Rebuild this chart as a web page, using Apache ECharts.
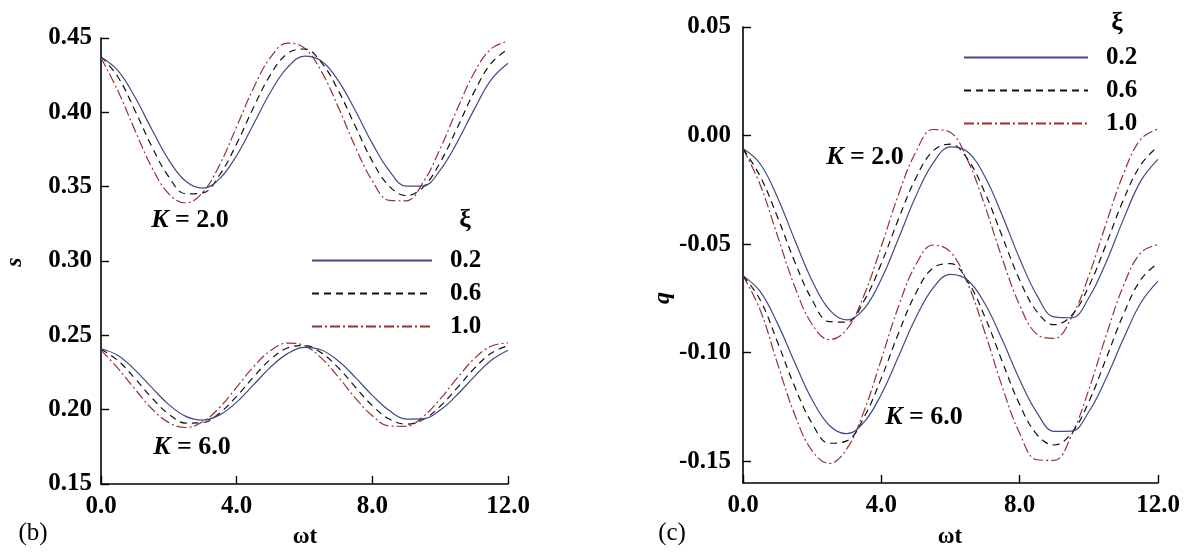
<!DOCTYPE html>
<html>
<head>
<meta charset="utf-8">
<script src="https://cdn.jsdelivr.net/npm/echarts@6/dist/echarts.min.js"></script>
<style>
html,body{margin:0;padding:0;background:#fff;}
#c{width:1189px;height:553px;}
</style>
</head>
<body>
<div id="c"></div>
<script>
// ωt sample points
const T = [0,0.5,1,1.5,2,2.5,3,3.5,4,4.5,5,5.5,6,6.5,7,7.5,8,8.5,9,9.5,10,10.5,11,11.5,12];
const xTicks = [0, 4, 8, 12];
const sTicks = [0.15, 0.20, 0.25, 0.30, 0.35, 0.40, 0.45];
const qTicks = [-0.15, -0.10, -0.05, 0.00, 0.05];
const xiNames = ['0.2', '0.6', '1.0'];

// panel (b): s, K = 2.0
const sK2_02 = [0.4372,0.4280,0.4103,0.3885,0.3679,0.3536,0.3490,0.3554,0.3710,0.3922,0.4137,0.4302,0.4378,0.4345,0.4212,0.4011,0.3791,0.3607,0.3503,0.3505,0.3612,0.3798,0.4018,0.4218,0.4330];
const sK2_06 = [0.4375,0.4238,0.4013,0.3769,0.3566,0.3452,0.3458,0.3580,0.3789,0.4034,0.4254,0.4396,0.4426,0.4335,0.4146,0.3906,0.3672,0.3503,0.3440,0.3497,0.3663,0.3894,0.4136,0.4329,0.4425];
const sK2_10 = [0.4365,0.4144,0.3880,0.3629,0.3452,0.3390,0.3462,0.3648,0.3904,0.4165,0.4370,0.4466,0.4432,0.4274,0.4033,0.3766,0.3539,0.3408,0.3405,0.3530,0.3754,0.4020,0.4265,0.4427,0.4478];
// panel (b): s, K = 6.0
const sK6_02 = [0.2410,0.2365,0.2268,0.2148,0.2034,0.1955,0.1930,0.1965,0.2051,0.2168,0.2286,0.2377,0.2419,0.2401,0.2327,0.2217,0.2096,0.1994,0.1937,0.1938,0.1997,0.2100,0.2221,0.2331,0.2400];
const sK6_06 = [0.2408,0.2330,0.2210,0.2079,0.1970,0.1910,0.1913,0.1978,0.2090,0.2221,0.2339,0.2415,0.2431,0.2382,0.2281,0.2152,0.2027,0.1937,0.1903,0.1934,0.2023,0.2146,0.2276,0.2379,0.2430];
const sK6_10 = [0.2400,0.2278,0.2139,0.2006,0.1913,0.1880,0.1918,0.2016,0.2151,0.2289,0.2397,0.2448,0.2430,0.2347,0.2219,0.2078,0.1959,0.1890,0.1888,0.1954,0.2072,0.2212,0.2342,0.2427,0.2449];
// panel (c): q, K = 2.0
const qK2_02 = [-0.0060,-0.0131,-0.0286,-0.0482,-0.0669,-0.0803,-0.0849,-0.0798,-0.0661,-0.0473,-0.0278,-0.0126,-0.0052,-0.0076,-0.0191,-0.0369,-0.0567,-0.0736,-0.0835,-0.0839,-0.0747,-0.0583,-0.0386,-0.0210,-0.0110];
const qK2_06 = [-0.0060,-0.0189,-0.0376,-0.0582,-0.0757,-0.0857,-0.0859,-0.0761,-0.0589,-0.0383,-0.0195,-0.0070,-0.0039,-0.0110,-0.0265,-0.0466,-0.0665,-0.0811,-0.0871,-0.0828,-0.0694,-0.0501,-0.0296,-0.0135,-0.0050];
const qK2_10 = [-0.0060,-0.0228,-0.0463,-0.0697,-0.0870,-0.0940,-0.0893,-0.0735,-0.0510,-0.0270,-0.0075,0.0028,0.0014,-0.0115,-0.0326,-0.0568,-0.0781,-0.0915,-0.0934,-0.0838,-0.0645,-0.0405,-0.0177,-0.0017,0.0030];
// panel (c): q, K = 6.0
const qK6_02 = [-0.0645,-0.0719,-0.0866,-0.1046,-0.1217,-0.1335,-0.1373,-0.1320,-0.1191,-0.1016,-0.0838,-0.0701,-0.0639,-0.0666,-0.0776,-0.0942,-0.1124,-0.1276,-0.1362,-0.1361,-0.1272,-0.1118,-0.0936,-0.0771,-0.0670];
const qK6_06 = [-0.0645,-0.0758,-0.0952,-0.1158,-0.1326,-0.1417,-0.1406,-0.1297,-0.1117,-0.0909,-0.0725,-0.0609,-0.0590,-0.0673,-0.0837,-0.1042,-0.1239,-0.1377,-0.1425,-0.1370,-0.1226,-0.1027,-0.0824,-0.0664,-0.0587];
const qK6_10 = [-0.0645,-0.0805,-0.1051,-0.1287,-0.1452,-0.1510,-0.1443,-0.1269,-0.1030,-0.0785,-0.0594,-0.0504,-0.0536,-0.0683,-0.0909,-0.1159,-0.1371,-0.1493,-0.1496,-0.1379,-0.1170,-0.0921,-0.0692,-0.0540,-0.0502];

const FONT = '"Liberation Serif", "DejaVu Serif", serif';
const styles = [
  {color: '#414a86', width: 1.2, type: 'solid'},
  {color: '#111111', width: 1.2, type: [7, 5]},
  {color: '#9b2f2f', width: 1.2, type: [10, 3, 2, 3]}
];

function pairs(arr) { return T.map((t, i) => [t, arr[i]]); }
function mkSeries(name, arr, idx, k) {
  return {
    name: name, type: 'line', xAxisIndex: idx, yAxisIndex: idx,
    data: pairs(arr), smooth: 0.4, symbol: 'none', silent: true,
    lineStyle: styles[k], itemStyle: {color: styles[k].color}, z: 3 - k
  };
}

const axisCommon = {
  axisLine: {show: true, onZero: false, lineStyle: {color: '#000', width: 1.6}},
  axisTick: {show: true, inside: true, length: 8, lineStyle: {color: '#000', width: 1.4}},
  splitLine: {show: false},
  axisLabel: {color: '#000', fontFamily: FONT, fontWeight: 'bold', fontSize: 25}
};

function xAxis(gi) {
  return Object.assign({}, axisCommon, {
    type: 'value', gridIndex: gi, min: 0, max: 12, interval: 4,
    axisLabel: Object.assign({}, axisCommon.axisLabel, {margin: 10, formatter: v => v.toFixed(1), showMinLabel: true, showMaxLabel: true})
  });
}

const legendCommon = {
  data: xiNames, orient: 'vertical', itemHeight: 14, itemGap: 8, selectedMode: false,
  itemStyle: {opacity: 0, borderWidth: 0},
  textStyle: {color: '#000', fontFamily: FONT, fontWeight: 'bold', fontSize: 25, padding: [0, 0, 0, 13]}
};

const option = {
  animation: false,
  backgroundColor: '#ffffff',
  grid: [
    {left: 101, top: 38, width: 407, height: 446},
    {left: 743, top: 27, width: 415, height: 456}
  ],
  xAxis: [xAxis(0), xAxis(1)],
  yAxis: [
    Object.assign({}, axisCommon, {
      type: 'value', gridIndex: 0, min: 0.15, max: 0.45, interval: 0.05,
      axisLabel: Object.assign({}, axisCommon.axisLabel, {margin: 9, formatter: v => v.toFixed(2)})
    }),
    Object.assign({}, axisCommon, {
      type: 'value', gridIndex: 1, min: -0.16, max: 0.05,
      axisTick: Object.assign({}, axisCommon.axisTick, {customValues: qTicks}),
      axisLabel: Object.assign({}, axisCommon.axisLabel, {margin: 12, customValues: qTicks, formatter: v => v.toFixed(2)})
    })
  ],
  legend: [
    Object.assign({}, legendCommon, {left: 306, top: 243, itemWidth: 120}),
    Object.assign({}, legendCommon, {left: 958, top: 40, itemWidth: 124})
  ],
  series: [
    mkSeries(xiNames[0], sK2_02, 0, 0), mkSeries(xiNames[1], sK2_06, 0, 1), mkSeries(xiNames[2], sK2_10, 0, 2),
    mkSeries(xiNames[0], sK6_02, 0, 0), mkSeries(xiNames[1], sK6_06, 0, 1), mkSeries(xiNames[2], sK6_10, 0, 2),
    mkSeries(xiNames[0], qK2_02, 1, 0), mkSeries(xiNames[1], qK2_06, 1, 1), mkSeries(xiNames[2], qK2_10, 1, 2),
    mkSeries(xiNames[0], qK6_02, 1, 0), mkSeries(xiNames[1], qK6_06, 1, 1), mkSeries(xiNames[2], qK6_10, 1, 2)
  ],
  graphic: (function () {
    const g = [];
    function txt(text, x, y, font, rot, rich) {
      const el = {type: 'text', x: x, y: y, rotation: rot || 0, silent: true,
        style: {text: text, font: font, fill: '#000', align: 'center', verticalAlign: 'middle'}};
      if (rich) el.style.rich = rich;
      g.push(el);
    }
    const kRich = {
      k: {font: 'italic bold 26px ' + FONT, fill: '#000'},
      n: {font: 'bold 26px ' + FONT, fill: '#000'}
    };
    txt('{k|K}{n| = 2.0}', 190, 220, 'bold 26px ' + FONT, 0, kRich);
    txt('{k|K}{n| = 6.0}', 192, 447, 'bold 26px ' + FONT, 0, kRich);
    txt('{k|K}{n| = 2.0}', 865, 157, 'bold 26px ' + FONT, 0, kRich);
    txt('{k|K}{n| = 6.0}', 924, 417, 'bold 26px ' + FONT, 0, kRich);
    txt('ξ', 465, 220, 'bold 26px ' + FONT);
    txt('ξ', 1117, 23, 'bold 26px ' + FONT);
    txt('ωt', 305, 537, 'bold 23px ' + FONT);
    txt('ωt', 950, 537, 'bold 23px ' + FONT);
    txt('(b)', 33, 533, '25px ' + FONT);
    txt('(c)', 672, 533, '25px ' + FONT);
    txt('s', 15, 262, 'italic bold 24px ' + FONT, Math.PI / 2);
    txt('q', 663, 298, 'italic bold 24px ' + FONT, Math.PI / 2);
    return g;
  })()
};

const chart = echarts.init(document.getElementById('c'), null, {renderer: 'canvas'});
chart.setOption(option);
</script>
</body>
</html>
